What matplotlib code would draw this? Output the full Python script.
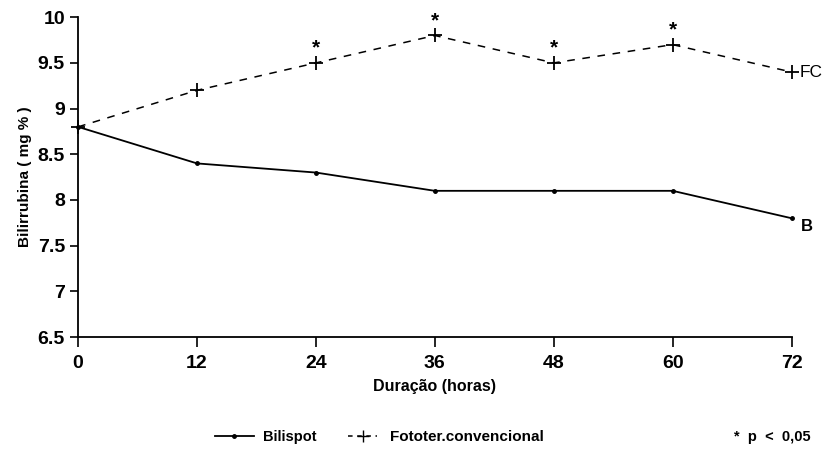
import matplotlib
matplotlib.use('Agg')
import matplotlib.pyplot as plt
from matplotlib.lines import Line2D

plt.rcParams['font.family'] = ['Liberation Sans', 'DejaVu Sans']
plt.rcParams['font.weight'] = 'bold'

horas = [0, 12, 24, 36, 48, 60, 72]
bilispot = [8.8, 8.4, 8.3, 8.1, 8.1, 8.1, 7.8]
fototer = [8.8, 9.2, 9.5, 9.8, 9.5, 9.7, 9.4]
signif = [24, 36, 48, 60]  # horas com p < 0,05
yticks = [6.5, 7, 7.5, 8, 8.5, 9, 9.5, 10]
ytick_labels = ['6.5', '7', '7.5', '8', '8.5', '9', '9.5', '10']

fig = plt.figure(figsize=(8.22, 4.53), dpi=100)
ax = fig.add_axes([0.095, 0.256, 0.868, 0.706])

ax.plot(horas, bilispot, color='black', lw=1.3, marker='o', ms=2.5)
ax.plot(horas, fototer, color='black', lw=1.1, ls=(0, (5, 5)),
        marker='+', ms=10, mew=1.3)

for h in signif:
    v = fototer[horas.index(h)]
    ax.annotate('*', (h, v), xytext=(0, 4), textcoords='offset points',
                ha='center', va='bottom', fontsize=15, fontweight='bold')

ax.annotate('B', (horas[-1], bilispot[-1]), xytext=(7, -6), textcoords='offset points',
            ha='left', va='center', fontsize=12, fontweight='bold')
ax.annotate('FC', (horas[-1], fototer[-1]), xytext=(6, 0), textcoords='offset points',
            ha='left', va='center', fontsize=12.5, fontweight='normal')

ax.set_xlim(0, 72)
ax.set_ylim(6.5, 10)
ax.set_xticks(horas)
ax.set_yticks(yticks)
ax.set_yticklabels(ytick_labels)
ax.tick_params(axis='both', labelsize=14, width=1.2, length=6, direction='out')
ax.tick_params(axis='x', pad=6, length=7)
for s in ['top', 'right']:
    ax.spines[s].set_visible(False)
for s in ['left', 'bottom']:
    ax.spines[s].set_linewidth(1.3)
for ln in ax.lines:
    ln.set_clip_on(False)

ax.set_xlabel('Duração (horas)', fontsize=11.5, fontweight='bold', labelpad=5)
ax.set_ylabel('Bilirrubina ( mg % )', fontsize=11, fontweight='bold', labelpad=4)

h1 = Line2D([], [], color='black', lw=1.3, marker='o', ms=2.5, markevery=[1])
h2 = Line2D([], [], color='black', lw=1.1, ls=(0, (3, 3)), marker='+', ms=9,
            markevery=[1])
leg1 = fig.legend([h1], ['Bilispot'], loc='center left', bbox_to_anchor=(0.245, 0.035),
                  frameon=False, fontsize=10.5, handlelength=2.7, handletextpad=0.6)
leg2 = fig.legend([h2], ['Fototer.convencional'], loc='center left',
                  bbox_to_anchor=(0.407, 0.035), frameon=False, fontsize=11,
                  handlelength=1.9, handletextpad=0.8)
for lg in (leg1, leg2):
    for t in lg.get_texts():
        t.set_fontweight('bold')
fig.text(0.893, 0.035, '*  p  <  0,05', ha='left', va='center', fontsize=10.5,
         fontweight='bold')

fig.savefig('out.png', dpi=100)
